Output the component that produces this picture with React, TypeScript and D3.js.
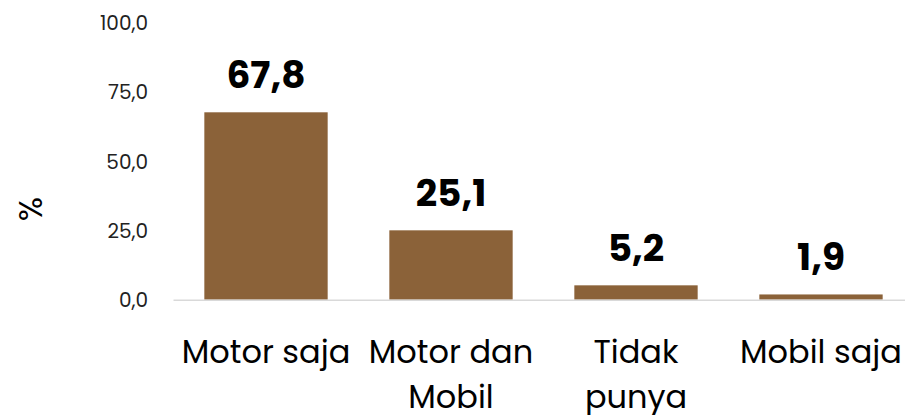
import React from 'react'
import * as d3 from 'd3'

const categories = ['Motor saja', 'Motor dan Mobil', 'Tidak punya', 'Mobil saja']
const categoryLines = [['Motor saja'], ['Motor dan', 'Mobil'], ['Tidak', 'punya'], ['Mobil saja']]
const values = [67.8, 25.1, 5.2, 1.9]
const yTicks = [0, 25, 50, 75, 100]

const W = 905
const H = 415
const margin = { top: 23.3, left: 173.5, bottom: 115.3 }
const FONT = "Poppins, Inter, 'Noto Sans', sans-serif"
const fmt = (v: number) => v.toFixed(1).replace('.', ',')

export default function App() {
  const x = d3.scaleBand<string>()
    .domain(categories)
    .range([margin.left, margin.left + 4 * 185])
    .paddingInner(1 / 3)
    .paddingOuter(1 / 6)

  const y = d3.scaleLinear()
    .domain([0, 100])
    .range([H - margin.bottom, margin.top])

  return (
    <svg width={W} height={H} style={{ position: 'absolute', left: 0, top: 0, background: '#fff' }}
      fontFamily={FONT}>
      {/* y ticks */}
      {yTicks.map(t => (
        <text key={t} x={148} y={y(t)} dy="0.35em" textAnchor="end" fontSize={20} fill="#222">
          {fmt(t)}
        </text>
      ))}
      <text transform="translate(42,209) rotate(-90)" textAnchor="middle" fontSize={32} fill="#000">%</text>

      {/* bars */}
      {categories.map((c, i) => (
        <rect key={c} x={x(c)} y={y(values[i])} width={x.bandwidth()}
          height={y(0) - y(values[i])} fill="#8B6239" />
      ))}

      <line x1={margin.left} x2={W} y1={y(0) + 0.5} y2={y(0) + 0.5} stroke="#d9d9d9" strokeWidth={1.5} />

      {/* value labels */}
      {categories.map((c, i) => (
        <text key={c} x={x(c)! + x.bandwidth() / 2} y={y(values[i]) - 24} textAnchor="middle"
          fontSize={37.5} fontWeight={700} fill="#000">
          {fmt(values[i])}
        </text>
      ))}

      {/* category labels */}
      {categories.map((c, i) => (
        <text key={c} x={x(c)! + x.bandwidth() / 2} y={362.7} textAnchor="middle" fontSize={32} fill="#000">
          {categoryLines[i].map((l, j) => (
            <tspan key={j} x={x(c)! + x.bandwidth() / 2} dy={j === 0 ? 0 : 45}>{l}</tspan>
          ))}
        </text>
      ))}
    </svg>
  )
}
